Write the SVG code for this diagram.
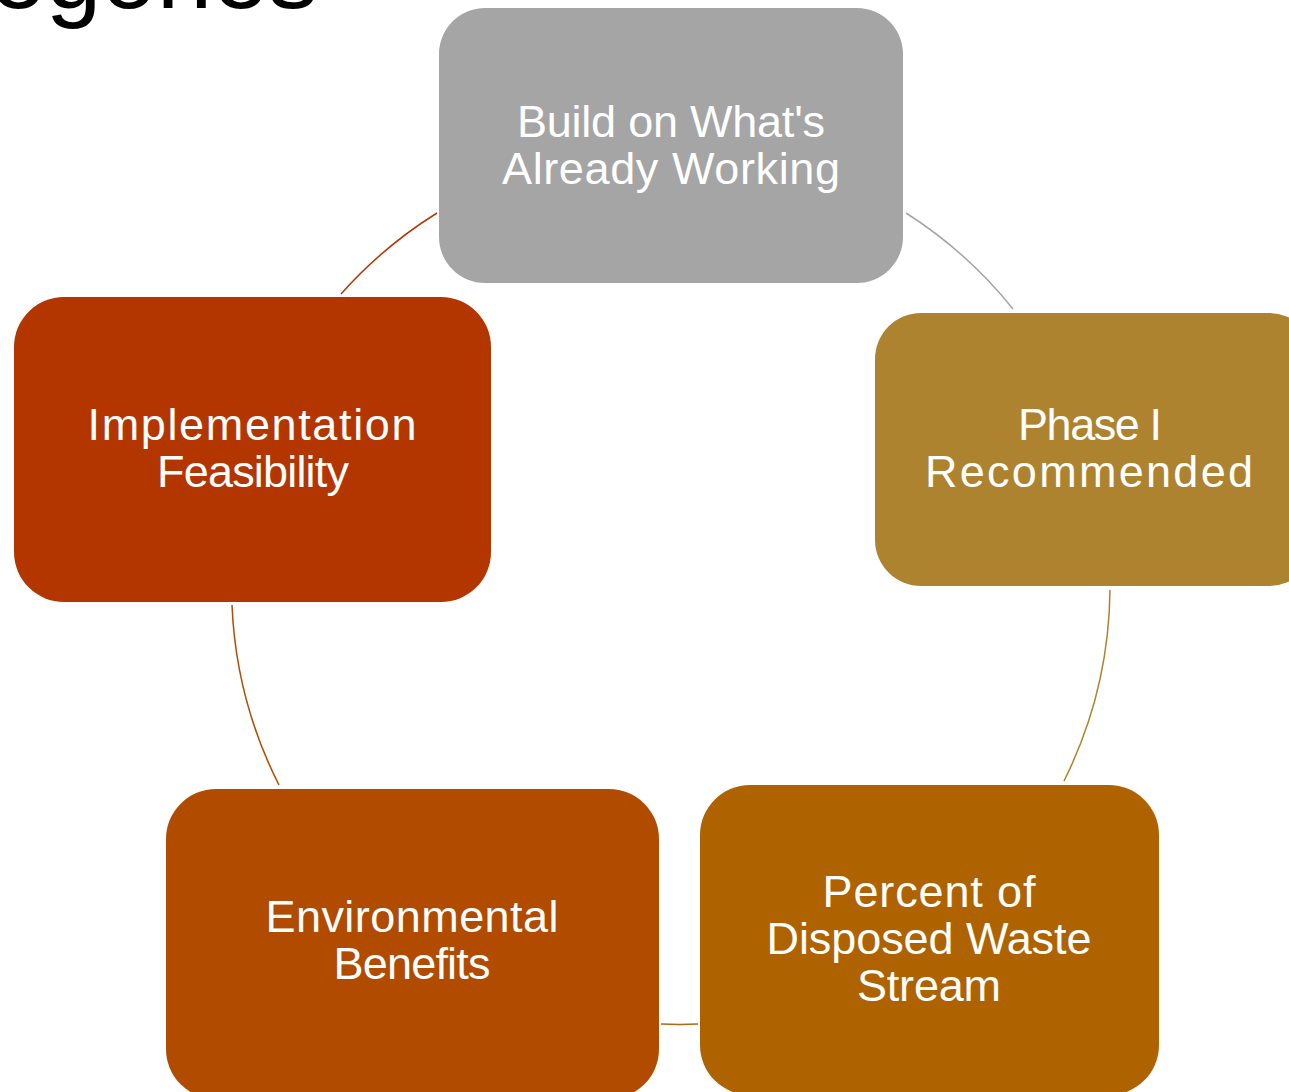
<svg xmlns="http://www.w3.org/2000/svg" width="1289" height="1092" viewBox="0 0 1289 1092">
<style>
.lbl{font-family:"Liberation Sans",Arial,sans-serif;font-size:45px;fill:#FFFFFF;text-anchor:middle}
.arc{fill:none;stroke-width:1.5}
.title{font-family:"Liberation Sans",Arial,sans-serif;font-size:100px;fill:#000000;text-anchor:end}
</style>
<rect width="1289" height="1092" fill="#FFFFFF"/>
<text class="title" x="318" y="8">Categories</text>
<g id="connectors">
<path class="arc" stroke="#A5A5A5" d="M 906 213 A 439 439 0 0 1 1013 309"/>
<path class="arc" stroke="#AE8330" d="M 1110 590 A 439 439 0 0 1 1064 781"/>
<path class="arc" stroke="#AF6A10" d="M 698 1024 A 439 439 0 0 1 661 1024"/>
<path class="arc" stroke="#B04B00" d="M 279 785 A 439 439 0 0 1 232 605"/>
<path class="arc" stroke="#B33500" d="M 341 294 A 439 439 0 0 1 437 213"/>
</g>
<g id="node-build">
<rect x="439" y="8" width="464" height="275" rx="46" fill="#A5A5A5"/>
<text class="lbl" x="671" y="137" textLength="308" lengthAdjust="spacing">Build on What's</text>
<text class="lbl" x="671" y="184" textLength="338" lengthAdjust="spacing">Already Working</text>
</g>
<g id="node-phase">
<rect x="875" y="313" width="440" height="273" rx="46" fill="#AE8330"/>
<text class="lbl" x="1090" y="440" textLength="144" lengthAdjust="spacing">Phase I</text>
<text class="lbl" x="1089" y="487" textLength="328" lengthAdjust="spacing">Recommended</text>
</g>
<g id="node-percent">
<rect x="700" y="785" width="459" height="310" rx="50" fill="#AE6300"/>
<text class="lbl" x="929" y="907" textLength="213" lengthAdjust="spacing">Percent of</text>
<text class="lbl" x="929" y="954" textLength="325" lengthAdjust="spacing">Disposed Waste</text>
<text class="lbl" x="929" y="1001" textLength="144" lengthAdjust="spacing">Stream</text>
</g>
<g id="node-environmental">
<rect x="166" y="789" width="493" height="310" rx="50" fill="#B04B00"/>
<text class="lbl" x="412" y="932" textLength="293" lengthAdjust="spacing">Environmental</text>
<text class="lbl" x="412" y="979" textLength="157" lengthAdjust="spacing">Benefits</text>
</g>
<g id="node-implementation">
<rect x="14" y="297" width="477" height="305" rx="50" fill="#B33500"/>
<text class="lbl" x="252" y="440" textLength="329" lengthAdjust="spacing">Implementation</text>
<text class="lbl" x="253" y="487" textLength="192" lengthAdjust="spacing">Feasibility</text>
</g>
</svg>
